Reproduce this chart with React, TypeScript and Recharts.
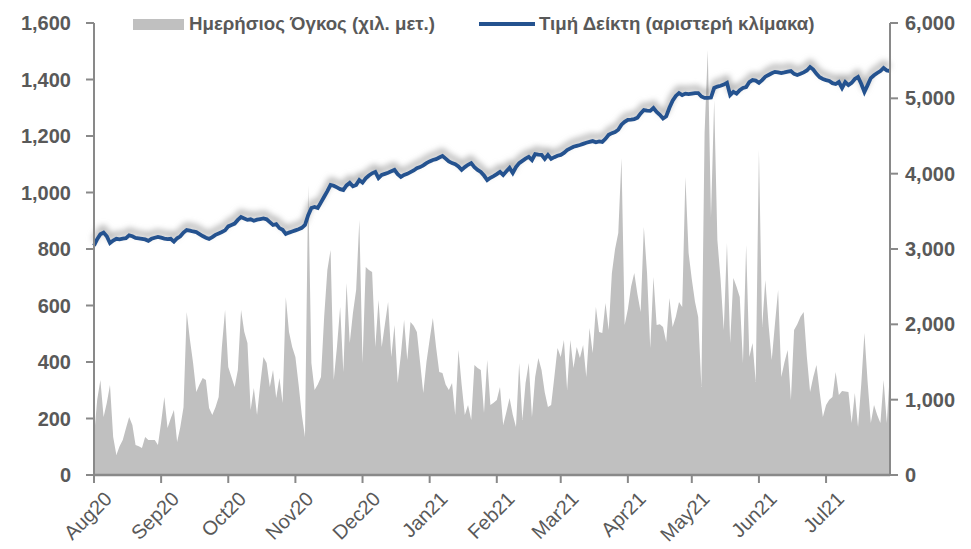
import React from 'react';
import {
  ComposedChart,
  Area,
  Line,
  XAxis,
  YAxis,
} from 'recharts';

// trading-day index where each month starts, and its label
const monthStarts = [0, 21, 42, 63, 84, 105, 126, 146, 167, 187, 208, 229];
const monthLabels = ['Aug20', 'Sep20', 'Oct20', 'Nov20', 'Dec20', 'Jan21', 'Feb21', 'Mar21', 'Apr21', 'May21', 'Jun21', 'Jul21'];

const leftTicks = [0, 200, 400, 600, 800, 1000, 1200, 1400, 1600];
const rightTicks = [0, 1000, 2000, 3000, 4000, 5000, 6000];

// daily volume (thousand units), Aug20 -> Jul21
const volume = [
  505, 1000, 1261, 770, 956, 1195, 505, 265, 380, 465, 620, 770, 664, 398, 380, 358, 505, 465, 465, 465, 398,
  700, 1035, 624, 750, 863, 438, 637, 900, 2164, 1800, 1487, 1102, 1200, 1288, 1261, 889, 796, 900, 1035, 1699, 2190,
  1434, 1300, 1168, 1394, 2190, 1900, 1752, 863, 1155, 796, 1200, 1566, 1487, 1168, 1394, 1022, 1288, 956, 2363, 1898, 1700,
  1566, 1200, 800, 505, 3850, 1487, 1128, 1200, 1301, 2100, 2721, 2987, 1261, 1700, 2230, 1367, 2549, 1752, 2150, 2456, 3385,
  1487, 2761, 2720, 2695, 1699, 2323, 1699, 2000, 2297, 1566, 1991, 1221, 1600, 2058, 1527, 2031, 1980, 1898, 1500, 1089, 1500,
  1800, 2084, 1700, 1367, 1354, 1200, 1128, 1221, 796, 1659, 1200, 796, 929, 730, 1460, 1420, 1394, 823, 1527, 929, 960,
  996, 1168, 664, 836, 1022, 800, 637, 1487, 730, 1221, 1487, 770, 1301, 1553, 1394, 1100, 903, 929, 1300, 1686,
  1566, 1792, 1128, 1792, 1420, 1699, 1553, 1726, 1301, 1951, 1620, 2230, 1898, 1885, 2283, 1925, 2681, 3000, 3213, 4208, 1991,
  2200, 2500, 2681, 2400, 2164, 3292, 2681, 1686, 2628, 1991, 2000, 1965, 1766, 2350, 1965, 2100, 2297, 2230, 3956, 2947, 2600,
  2300, 2097, 1168, 4540, 5642, 3425, 4978, 3120, 2600, 1925, 3080, 1752, 2615, 2500, 2363, 1487, 3053, 1566, 1752, 1235, 4314,
  1965, 2589, 2000, 1527, 2000, 2456, 1301, 1500, 1659, 996, 1925, 2000, 2100, 2164, 1566, 1102, 1300, 1460, 1102, 770, 929,
  1000, 1035, 1367, 1062, 1115, 1110, 1102, 690, 1089, 637, 1200, 1885, 1235, 690, 929, 796, 690, 1261, 690, 1394,
];

// daily index price (left scale)
const price = [
  812, 835, 852, 858, 845, 821, 830, 836, 834, 837, 838, 848, 845, 839, 838, 836, 834, 829, 836, 840, 843,
  840, 837, 835, 836, 826, 838, 845, 858, 867, 865, 862, 860, 853, 846, 840, 836, 842, 850, 855, 860, 866,
  880, 885, 890, 903, 913, 908, 903, 905, 900, 904, 906, 908, 905, 895, 885, 888, 874, 868, 853, 858, 862,
  866, 870, 875, 885, 920, 945, 949, 945, 965, 985, 1005, 1027, 1024, 1018, 1012, 1009, 1025, 1034, 1022, 1027, 1044,
  1035, 1050, 1060, 1068, 1073, 1051, 1062, 1066, 1070, 1075, 1080, 1065, 1055, 1062, 1066, 1072, 1078, 1086, 1090, 1096, 1104,
  1110, 1115, 1118, 1124, 1129, 1120, 1110, 1104, 1100, 1092, 1080, 1090, 1098, 1104, 1090, 1080, 1073, 1060, 1044, 1052, 1058,
  1065, 1073, 1062, 1075, 1087, 1069, 1090, 1104, 1112, 1120, 1126, 1115, 1136, 1134, 1133, 1119, 1133, 1119, 1125, 1130,
  1133, 1140, 1150, 1156, 1162, 1165, 1168, 1172, 1176, 1179, 1182, 1178, 1181, 1179, 1190, 1204, 1210, 1214, 1222, 1240, 1250,
  1257, 1258, 1260, 1265, 1280, 1292, 1290, 1289, 1299, 1285, 1275, 1262, 1270, 1300, 1325, 1342, 1352, 1345, 1350, 1348, 1350,
  1352, 1352, 1340, 1335, 1335, 1336, 1370, 1375, 1378, 1382, 1388, 1345, 1356, 1350, 1362, 1370, 1373, 1391, 1398, 1396, 1388,
  1398, 1410, 1416, 1422, 1427, 1425, 1423, 1425, 1428, 1430, 1420, 1416, 1420, 1425, 1432, 1444, 1435, 1420, 1408, 1402, 1398,
  1395, 1387, 1384, 1391, 1370, 1391, 1380, 1388, 1402, 1409, 1385, 1356, 1380, 1405, 1415, 1423, 1430, 1441, 1432, 1430,
];

const data = volume.map((v, i) => ({ day: i, volume: v, price: price[i] }));

const GREY = '#595959';
const AXIS = '#898989';
const FONT = '"Liberation Sans", Arial, sans-serif';

const fmt = (v: number) => v.toLocaleString('en-US');

function MonthTick(props: any) {
  const { x, y, payload } = props;
  const idx = monthStarts.indexOf(payload.value);
  return (
    <g transform={`translate(${x + 9},${y + 5})`}>
      <text
        transform="rotate(-45)"
        textAnchor="end"
        dominantBaseline="hanging"
        fill={GREY}
        fontSize={20}
        fontFamily={FONT}
      >
        {monthLabels[idx]}
      </text>
    </g>
  );
}

export default function App() {
  return (
    <div style={{ position: 'absolute', left: 0, top: 0, width: 971, height: 549, background: '#fff', fontFamily: FONT }}>
      {/* soft grey glow above the price line, like the original */}
      <style>{`.recharts-line path { filter: drop-shadow(0px -5px 3px rgba(100,100,100,0.65)); }`}</style>

      {/* legend */}
      <div style={{ position: 'absolute', left: 133, top: 13, display: 'flex', alignItems: 'center', color: GREY, fontWeight: 'bold', fontSize: 18.7, whiteSpace: 'nowrap', zIndex: 2 }}>
        <span style={{ display: 'inline-block', width: 51, height: 11, background: '#c0c0c0', marginRight: 5 }} />
        <span>Ημερήσιος Όγκος (χιλ. μετ.)</span>
        <span style={{ display: 'inline-block', width: 56, height: 4, background: '#24528f', marginLeft: 44, marginRight: 4 }} />
        <span>Τιμή Δείκτη (αριστερή κλίμακα)</span>
      </div>

      <ComposedChart width={971} height={549} data={data} margin={{ top: 23, right: 0, bottom: 0, left: 0 }}>
        <XAxis
          dataKey="day"
          type="number"
          domain={[0, 249]}
          ticks={monthStarts}
          interval={0}
          height={74}
          tick={<MonthTick />}
          tickLine={{ stroke: AXIS, strokeWidth: 2 }}
          tickSize={8}
          axisLine={{ stroke: AXIS, strokeWidth: 2.5 }}
        />
        <YAxis
          yAxisId="left"
          orientation="left"
          width={94}
          domain={[0, 1600]}
          ticks={leftTicks}
          interval={0}
          tickFormatter={fmt}
          tickSize={8}
          tickMargin={15}
          tick={{ fill: GREY, fontSize: 20, fontWeight: 'bold', fontFamily: FONT }}
          tickLine={{ stroke: AXIS, strokeWidth: 2 }}
          axisLine={{ stroke: AXIS, strokeWidth: 2 }}
        />
        <YAxis
          yAxisId="right"
          orientation="right"
          width={81}
          domain={[0, 6000]}
          ticks={rightTicks}
          interval={0}
          tickFormatter={fmt}
          tickSize={8}
          tickMargin={7}
          tick={{ fill: GREY, fontSize: 20, fontWeight: 'bold', fontFamily: FONT }}
          tickLine={{ stroke: AXIS, strokeWidth: 2 }}
          axisLine={{ stroke: AXIS, strokeWidth: 2 }}
        />
        <Area
          yAxisId="right"
          type="linear"
          dataKey="volume"
          stroke="none"
          fill="#c0c0c0"
          fillOpacity={1}
          isAnimationActive={false}
        />
        <Line
          yAxisId="left"
          type="linear"
          dataKey="price"
          stroke="#24528f"
          strokeWidth={3.8}
          dot={false}
          isAnimationActive={false}
        />
      </ComposedChart>
    </div>
  );
}
